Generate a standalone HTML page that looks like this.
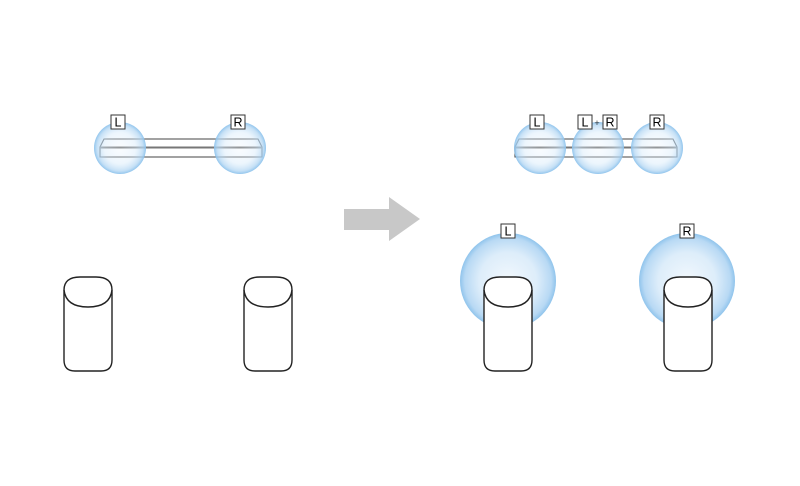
<!DOCTYPE html>
<html><head><meta charset="utf-8"><style>html,body{margin:0;padding:0;background:#fff}svg{display:block}</style></head>
<body>
<svg width="800" height="486" viewBox="0 0 800 486" xmlns="http://www.w3.org/2000/svg" font-family="Liberation Sans, sans-serif">
<defs>
<radialGradient id="g" cx="50%" cy="50%" r="50%">
<stop offset="0" stop-color="#e8f3fc" stop-opacity="0.25"/>
<stop offset="0.6" stop-color="#d6eafa" stop-opacity="0.45"/>
<stop offset="0.88" stop-color="#b2d6f3" stop-opacity="0.75"/>
<stop offset="1" stop-color="#8cc2ec" stop-opacity="0.95"/>
</radialGradient>
<radialGradient id="gb" cx="50%" cy="50%" r="50%">
<stop offset="0" stop-color="#f2f8fd"/>
<stop offset="0.6" stop-color="#ddedfa"/>
<stop offset="0.9" stop-color="#b8d9f4"/>
<stop offset="1" stop-color="#90c4ec"/>
</radialGradient>
<g id="spk">
<path d="M0,13 Q0,0 16,0 L32,0 Q48,0 48,13 L48,83 Q48,94 37,94 L11,94 Q0,94 0,83 Z" fill="#fff" stroke="#222" stroke-width="1.4"/>
<path d="M0,13 Q2,30 24,30 Q46,30 48,13" fill="none" stroke="#222" stroke-width="1.4"/>
</g>
<g id="lab"><rect x="-7" y="-7" width="14" height="14" fill="#fff" stroke="#333" stroke-width="1"/></g>
</defs>

<!-- left bar -->
<path d="M104,139 L258,139 L262,147 L262,157 L100,157 L100,147 Z" fill="#fff" stroke="#444" stroke-width="1.1"/>
<line x1="100" y1="147.5" x2="262" y2="147.5" stroke="#777" stroke-width="2"/>
<circle cx="120" cy="148" r="26" fill="url(#g)"/>
<circle cx="240" cy="148" r="26" fill="url(#g)"/>
<use href="#lab" x="118" y="122"/><text x="118" y="126.5" font-size="12.5" text-anchor="middle">L</text>
<use href="#lab" x="238" y="122"/><text x="238" y="126.5" font-size="12.5" text-anchor="middle">R</text>

<!-- right bar -->
<path d="M519,139 L673,139 L677,147 L677,157 L515,157 L515,147 Z" fill="#fff" stroke="#444" stroke-width="1.1"/>
<line x1="515" y1="147.5" x2="677" y2="147.5" stroke="#777" stroke-width="2"/>
<circle cx="540" cy="148" r="26" fill="url(#g)"/>
<circle cx="598" cy="148" r="26" fill="url(#g)"/>
<circle cx="657" cy="148" r="26" fill="url(#g)"/>
<use href="#lab" x="537" y="122"/><text x="537" y="126.5" font-size="12.5" text-anchor="middle">L</text>
<use href="#lab" x="585" y="122"/><text x="585" y="126.5" font-size="12.5" text-anchor="middle">L</text>
<text x="597" y="126" font-size="9" text-anchor="middle" fill="#333">+</text>
<use href="#lab" x="610" y="122"/><text x="610" y="126.5" font-size="12.5" text-anchor="middle">R</text>
<use href="#lab" x="657" y="122"/><text x="657" y="126.5" font-size="12.5" text-anchor="middle">R</text>

<!-- arrow -->
<path d="M344,209 L389,209 L389,197 L420,219 L389,241 L389,230 L344,230 Z" fill="#c8c8c8"/>

<!-- left speakers -->
<use href="#spk" x="64" y="277"/>
<use href="#spk" x="244" y="277"/>

<!-- right speakers -->
<circle cx="508" cy="281" r="48" fill="url(#gb)"/>
<circle cx="687" cy="281" r="48" fill="url(#gb)"/>
<use href="#spk" x="484" y="277"/>
<use href="#spk" x="664" y="277"/>
<use href="#lab" x="508" y="231"/><text x="508" y="235.5" font-size="12.5" text-anchor="middle">L</text>
<use href="#lab" x="687" y="231"/><text x="687" y="235.5" font-size="12.5" text-anchor="middle">R</text>
</svg>
</body></html>
